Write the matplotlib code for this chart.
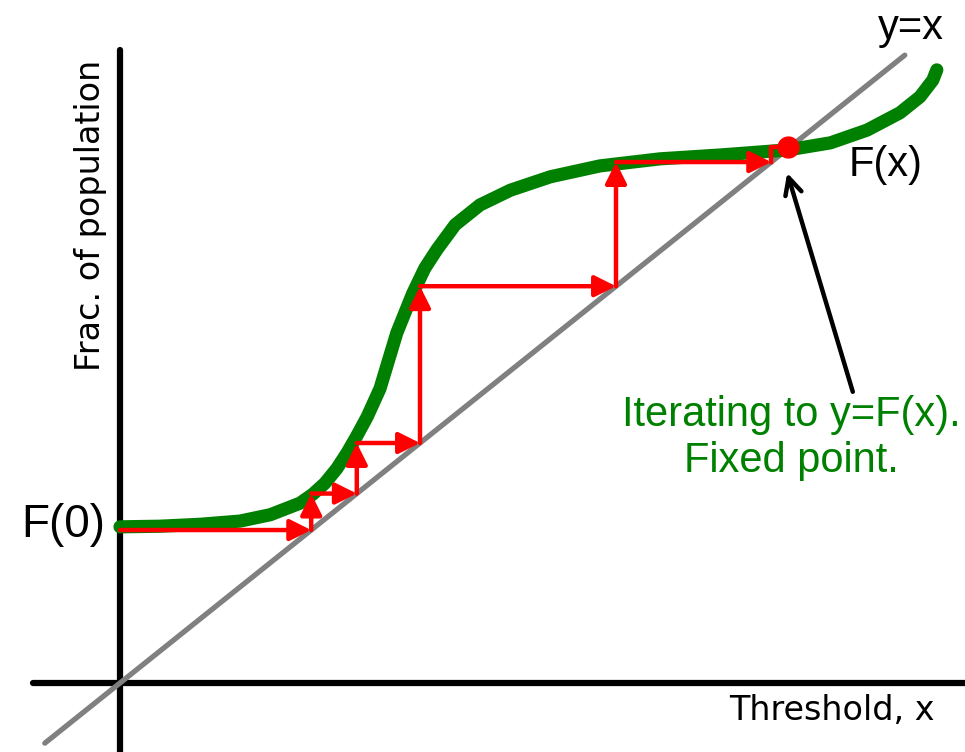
import matplotlib
matplotlib.use('Agg')
import matplotlib.pyplot as plt

# Green curve F(x) (threshold units)
curve_x = [0.000, 0.050, 0.100, 0.150, 0.188, 0.225, 0.241, 0.256, 0.271, 0.284,
           0.296, 0.309, 0.325, 0.346, 0.366, 0.381, 0.396, 0.419, 0.450, 0.488,
           0.538, 0.600, 0.675, 0.750, 0.835, 0.888, 0.934, 0.975, 1.000, 1.016, 1.021]
curve_y = [0.244, 0.245, 0.248, 0.253, 0.263, 0.281, 0.295, 0.312, 0.335, 0.360,
           0.386, 0.416, 0.460, 0.547, 0.609, 0.648, 0.677, 0.716, 0.747, 0.770,
           0.791, 0.808, 0.819, 0.825, 0.833, 0.844, 0.864, 0.891, 0.916, 0.942, 0.958]

# cobweb iterates x0=0, x1=F(x0), ...
iterates = [0.0, 0.239, 0.296, 0.375, 0.620, 0.814, 0.838]
fixed_point = (0.835, 0.837)

green = '#008000'
red = '#ff0000'

fig = plt.figure(figsize=(9.65, 7.52), dpi=100)
ax = fig.add_axes([0, 0, 1, 1])
ax.set_xlim(-0.15, 1.05625)
ax.set_ylim(-0.1078, 1.0672)
ax.axis('off')

# axes
ax.plot([-0.109, 1.07], [0, 0], color='black', lw=4.5, solid_capstyle='round')
ax.plot([0, 0], [0.989, -0.12], color='black', lw=4.5, solid_capstyle='round')

# y = x
ax.plot([-0.094, 0.981], [-0.094, 0.981], color='#808080', lw=3.8, solid_capstyle='round')

# F(x)
ax.plot(curve_x, curve_y, color=green, lw=9.5, solid_capstyle='round', solid_joinstyle='round')

# cobweb
arrow = dict(arrowstyle='-|>', color=red, lw=3.2, mutation_scale=32, shrinkA=0, shrinkB=0)
n = len(iterates)
for k in range(1, n):
    x_prev = iterates[k - 1]
    lvl = iterates[k]
    if k < n - 1:
        ax.annotate('', xy=(lvl, lvl), xytext=(x_prev, lvl), arrowprops=arrow)
        nxt = iterates[k + 1]
        if k < n - 2:
            ax.annotate('', xy=(lvl, nxt), xytext=(lvl, lvl), arrowprops=arrow)
        else:
            ax.plot([lvl, lvl, fixed_point[0]], [lvl, nxt, nxt], color=red, lw=3.2)

ax.plot(*fixed_point, 'o', color=red, ms=15, zorder=5)

# annotation arrow
ax.annotate('', xy=(0.834, 0.797), xytext=(0.916, 0.455),
            arrowprops=dict(arrowstyle='->', color='black', lw=3.2, mutation_scale=30,
                            shrinkA=0, shrinkB=0))

arial = 'Liberation Sans'
ax.text(-0.019, 0.247, 'F(0)', fontsize=33, family=arial, ha='right', va='center')
ax.text(0.989, 1.023, 'y=x', fontsize=30, family=arial, ha='center', va='center')
ax.text(0.9575, 0.81, 'F(x)', fontsize=30, family=arial, ha='center', va='center')
ax.text(0.839, 0.383, 'Iterating to y=F(x).\nFixed point.', fontsize=30, family=arial,
        color=green, ha='center', va='center', linespacing=1.2)
ax.text(0.89, -0.043, 'Threshold, x', fontsize=24, family='DejaVu Sans', ha='center', va='center')
ax.text(-0.0375, 0.73, 'Frac. of population', fontsize=24, family='DejaVu Sans',
        rotation=90, ha='center', va='center')

fig.savefig('out.png', dpi=100)
